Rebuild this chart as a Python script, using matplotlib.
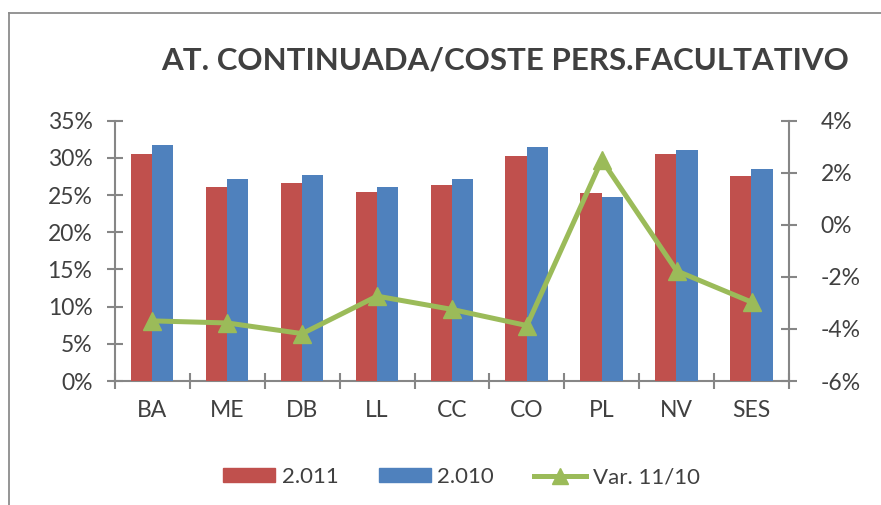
import matplotlib.pyplot as plt
from matplotlib.lines import Line2D
from matplotlib.ticker import FuncFormatter
import numpy as np

# data
categories = ['BA', 'ME', 'DB', 'LL', 'CC', 'CO', 'PL', 'NV', 'SES']
v2011 = [30.5, 26.1, 26.6, 25.4, 26.3, 30.2, 25.3, 30.5, 27.6]
v2010 = [31.7, 27.1, 27.7, 26.1, 27.2, 31.4, 24.7, 31.1, 28.5]
var_11_10 = [-3.69, -3.77, -4.18, -2.74, -3.25, -3.87, 2.49, -1.77, -2.97]

red = '#C0504D'
blue = '#4F81BD'
green = '#9BBB59'
grey = '#868686'
txt = '#404040'

plt.rcParams['font.family'] = ['Lato', 'DejaVu Sans']

fig = plt.figure(figsize=(8.81, 5.05), dpi=100)
ax = fig.add_axes([0.1305, 0.2455, 0.7651, 0.5156])
ax2 = ax.twinx()

x = np.arange(len(categories))
w = 0.284
ax.bar(x - 0.003, v2011, width=-w, align='edge', color=red, label='2.011', zorder=2)
ax.bar(x - 0.003, v2010, width=w, align='edge', color=blue, label='2.010', zorder=2)

ax2.plot(x, var_11_10, color=green, linewidth=3.6, marker='^', markersize=13,
         label='Var. 11/10', zorder=3)

ax.set_xlim(-0.5, len(categories) - 0.5)
ax.set_ylim(0, 35)
ax2.set_ylim(-6, 4)

ax.set_yticks(np.arange(0, 36, 5))
ax.yaxis.set_major_formatter(FuncFormatter(lambda v, p: '%d%%' % v))
ax2.set_yticks(np.arange(-6, 5, 2))
ax2.yaxis.set_major_formatter(FuncFormatter(lambda v, p: '%d%%' % v))

ax.set_xticks(x)
ax.set_xticklabels(categories)
ax.set_xticks(np.arange(-0.5, len(categories)), minor=True)

for a in (ax, ax2):
    for s in a.spines.values():
        s.set_visible(False)
ax.spines['left'].set_visible(True)
ax.spines['bottom'].set_visible(True)
ax2.spines['right'].set_visible(True)
for s in (ax.spines['left'], ax.spines['bottom'], ax2.spines['right']):
    s.set_color(grey)
    s.set_linewidth(1.5)
    s.set_zorder(1)

ax.tick_params(axis='y', direction='inout', length=11.5, width=1.5, color=grey,
               labelsize=16.5, labelcolor=txt, pad=10.5)
ax2.tick_params(axis='y', direction='inout', length=11.5, width=1.5, color=grey,
                labelsize=16.5, labelcolor=txt, pad=17)
ax.tick_params(axis='x', which='major', length=0, labelsize=16.5, labelcolor=txt, pad=14)
ax.tick_params(axis='x', which='minor', direction='inout', length=11.5, width=1.5, color=grey)

ax.patch.set_visible(False)
ax2.patch.set_visible(False)

fig.text(0.573, 1 - 69.3 / 505, 'AT. CONTINUADA/COSTE PERS.FACULTATIVO',
         ha='center', va='baseline', fontsize=22.5, fontweight='bold', color=txt)

handles = [plt.Rectangle((0, 0), 1, 1, color=red),
           plt.Rectangle((0, 0), 1, 1, color=blue),
           Line2D([], [], color=green, linewidth=3.6, marker='^', markersize=11)]
fig.legend(handles, ['2.011', '2.010', 'Var. 11/10'], loc='center',
           bbox_to_anchor=(0.524, 1 - 477 / 505), ncol=3, frameon=False,
           fontsize=16, handlelength=2.34, handleheight=0.6, handletextpad=0.3,
           columnspacing=1.8, labelcolor=txt)

# outer frame lines (left and top)
fig.add_artist(Line2D([9 / 881, 9 / 881], [0, 1 - 13 / 505], color='#8c8c8c', linewidth=1.3))
fig.add_artist(Line2D([9 / 881, 1], [1 - 13 / 505, 1 - 13 / 505], color='#8c8c8c', linewidth=1.3))

fig.savefig('out.png', dpi=100)
